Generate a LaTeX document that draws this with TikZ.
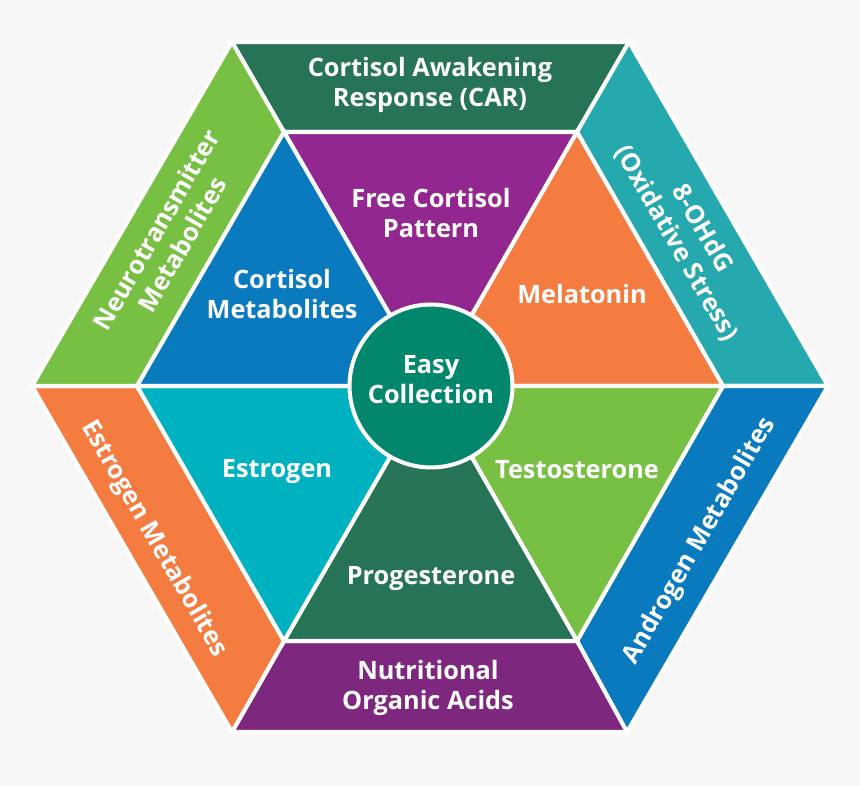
\documentclass[tikz,border=0pt]{standalone}
\usepackage{fontspec}
\setmainfont{Open Sans}
\definecolor{pagebg}{HTML}{F7F7F7}
\definecolor{darkgreen}{HTML}{277355}
\definecolor{freepurple}{HTML}{92278F}
\definecolor{acidpurple}{HTML}{7D287E}
\definecolor{metblue}{HTML}{0A7ABF}
\definecolor{hotorange}{HTML}{F57C40}
\definecolor{oxteal}{HTML}{26A9AE}
\definecolor{leafgreen}{HTML}{78C044}
\definecolor{estcyan}{HTML}{00B2C0}
\definecolor{easygreen}{HTML}{02866C}
\tikzset{
	face/.style={line width=2.3pt, draw=white, line join=miter},
	tag/.style={text=white, font=\fontsize{14.4}{17}\selectfont\bfseries, align=center, inner sep=0pt}
}
\begin{document}
\begin{tikzpicture}[x=0.02cm, y=-0.02cm]
	\fill [pagebg] (0,0) rectangle (860,786);
	\useasboundingbox (0,0) rectangle (860,786);
	% corners of the rings
	\coordinate (ol) at (32,386);
	\coordinate (oul) at (232,42);
	\coordinate (our) at (629,42);
	\coordinate (or) at (828,386);
	\coordinate (olr) at (627,732);
	\coordinate (oll) at (232,732);
	\coordinate (il) at (137,386);
	\coordinate (iul) at (284,132);
	\coordinate (iur) at (577,132);
	\coordinate (ir) at (723,386);
	\coordinate (ilr) at (577,641);
	\coordinate (ill) at (284,641);
	\coordinate (mid) at (431,386);
	% outer ring
	\filldraw [face, fill=darkgreen] (oul) -- (our) -- (iur) -- (iul) -- cycle;
	\filldraw [face, fill=oxteal] (our) -- (or) -- (ir) -- (iur) -- cycle;
	\filldraw [face, fill=metblue] (or) -- (olr) -- (ilr) -- (ir) -- cycle;
	\filldraw [face, fill=acidpurple] (olr) -- (oll) -- (ill) -- (ilr) -- cycle;
	\filldraw [face, fill=hotorange] (oll) -- (ol) -- (il) -- (ill) -- cycle;
	\filldraw [face, fill=leafgreen] (ol) -- (oul) -- (iul) -- (il) -- cycle;
	% inner triangles
	\filldraw [face, fill=freepurple] (iul) -- (iur) -- (mid) -- cycle;
	\filldraw [face, fill=hotorange] (iur) -- (ir) -- (mid) -- cycle;
	\filldraw [face, fill=leafgreen] (ir) -- (ilr) -- (mid) -- cycle;
	\filldraw [face, fill=darkgreen] (ilr) -- (ill) -- (mid) -- cycle;
	\filldraw [face, fill=estcyan] (ill) -- (il) -- (mid) -- cycle;
	\filldraw [face, fill=metblue] (il) -- (iul) -- (mid) -- cycle;
	\node (hub) [circle, fill=easygreen, draw=white, line width=2.3pt, minimum size=3.26cm] at (mid) {};
	% texts
	\node (car) [tag] at (430,85) {Cortisol Awakening\\Response (CAR)};
	\node (ohdg) [tag, rotate=-60] at (689,236) {8-OHdG\\(Oxidative Stress)};
	\node (andro) [tag, rotate=60] at (700,541) {Androgen Metabolites};
	\node (acids) [tag] at (428,688) {Nutritional\\Organic Acids};
	\node (estmet) [tag, rotate=-60] at (154,539) {Estrogen Metabolites};
	\node (neuro) [tag, rotate=60] at (169,237) {Neurotransmitter\\Metabolites};
	\node (free) [tag] at (431,213) {Free Cortisol\\Pattern};
	\node (melatonin) [tag] at (582,294) {Melatonin};
	\node (testo) [tag] at (577,470) {Testosterone};
	\node (proge) [tag] at (431,579) {Progesterone};
	\node (estrogen) [tag] at (277,472) {Estrogen};
	\node (cortmet) [tag] at (282,294) {Cortisol\\Metabolites};
	\node (easy) [tag] at (431,380) {Easy\\Collection};
\end{tikzpicture}
\end{document}
